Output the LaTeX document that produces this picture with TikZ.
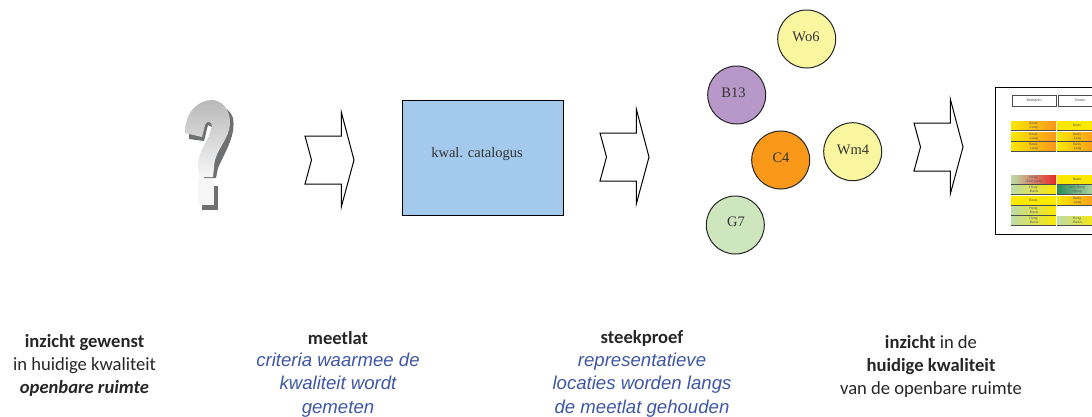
\documentclass[tikz,border=0pt]{standalone}
\usepackage{fontspec}
\setmainfont{Liberation Serif}
\newfontfamily\capfont{Carlito}
\newfontfamily\arifont{Liberation Sans}
\usetikzlibrary{calc}
\definecolor{qlight}{RGB}{185,185,185}
\definecolor{qdark}{RGB}{110,112,114}
\definecolor{qwhite}{RGB}{246,246,246}
\definecolor{catblue}{RGB}{163,201,236}
\definecolor{critblue}{RGB}{62,86,165}
\definecolor{cyel}{RGB}{250,246,160}
\definecolor{cpur}{RGB}{183,152,200}
\definecolor{corg}{RGB}{250,152,26}
\definecolor{cgrn}{RGB}{206,230,190}
\definecolor{ry}{RGB}{250,232,0}
\definecolor{ro}{RGB}{250,150,30}
\definecolor{rg}{RGB}{190,220,170}
\definecolor{rr}{RGB}{230,40,40}
\definecolor{rdg}{RGB}{40,140,90}
\tikzset{
 site/.style={circle,draw=black!85,line width=1pt,minimum size=58pt,inner sep=0pt},
 sitetext/.style={font=\fontsize{14.5}{16}\selectfont,text=black!80},
 flow/.style={draw=black,line width=1pt,fill=white,line join=miter},
 capt/.style={align=center,font=\capfont\fontsize{18.6}{23}\selectfont,text=black!85},
 crit/.style={align=center,font=\arifont\itshape\fontsize{18.6}{23.5}\selectfont,text=critblue},
 hdr/.style={draw=black!70,line width=1pt,fill=white,inner sep=0pt,font=\arifont\fontsize{3.6}{4}\selectfont,text=black!70},
 tiny/.style={align=center,inner sep=0pt,font=\arifont\fontsize{3.4}{3.9}\selectfont,text=black!65},
}
\newcommand{\flowarrow}[2]{\draw[flow] (#1,#2+24) -- ++(36.3,0) -- ++(0,24) -- ++(12.7,-48) -- ++(-12.7,-47) -- ++(0,23) -- ++(-36.3,0) -- ++(6.5,24) -- cycle;}
\newcommand{\cell}[6]{%
 \shade[left color=#4,right color=#5] (#1,-#2) rectangle ++(#3,-9);
 \draw[black!70,line width=1pt] (#1,-#2-9.4) -- ++(#3,0);
 \node[tiny] at ($(#1+#3/2,-#2-4.5)$) {#6};
}
\begin{document}
\begin{tikzpicture}[x=1pt,y=1pt]
\useasboundingbox (0,0) rectangle (1092,-416);
\clip (0,0) rectangle (1092,-416);
% question mark
\fill[qdark] (189,-139) -- (189,-125) .. controls (195,-103) and (226,-98) .. (233,-118)
 .. controls (236,-135) and (226,-150) .. (218,-168) -- (216,-178) -- (204,-178) -- (199,-165)
 .. controls (199,-150) and (210,-140) .. (212,-127) -- (208,-125) -- (204,-141) -- cycle;
\shade[top color=qlight,bottom color=qwhite] (185,-133) .. controls (185,-110) and (200,-100) .. (212,-100)
 .. controls (222,-100) and (230,-110) .. (230,-122)
 .. controls (230,-140) and (214,-150) .. (214,-168) -- (213,-177) -- (199,-177) -- (198,-165) .. controls (198,-150) and (210,-140) .. (212,-127)
 .. controls (212,-121) and (207,-120) .. (205,-125) -- (202,-137) -- cycle;
\fill[qwhite] (198,-179) rectangle (214,-205);
\fill[qdark] (214,-186) rectangle (218,-210);
\fill[qdark] (202,-205) rectangle (218,-210);
% arrows
\flowarrow{305}{-160}
\flowarrow{600}{-157}
\flowarrow{914}{-147}
% catalogue
\node[draw=black,line width=1pt,fill=catblue,minimum width=161pt,minimum height=115pt,inner sep=0pt,anchor=north west] (cat) at (402,-100) {};
\node[sitetext] (catt) at (477,-154) {kwal. catalogus};
% sites
\node[site,fill=cyel] (wo) at (806.7,-39) {};
\node[sitetext] at (806,-36.5) {Wo6};
\node[site,fill=cpur] (b) at (736.7,-95) {};
\node[sitetext] at (733.5,-93) {B13};
\node[site,fill=corg] (c) at (780.7,-160) {};
\node[sitetext] at (781,-157.5) {C4};
\node[site,fill=cyel] (wm) at (852.7,-151.7) {};
\node[sitetext] at (853,-149.5) {Wm4};
\node[site,fill=cgrn] (g) at (735.3,-225) {};
\node[sitetext] at (736,-222) {G7};
% report
\draw[black,line width=1pt,fill=white] (995,-87) rectangle (1100,-234.5);
\node[hdr,minimum width=44pt,minimum height=11pt] (h1) at (1034,-100.5) {Bedrijven};
\node[hdr,minimum width=44pt,minimum height=11pt] (h2) at (1080,-100.5) {Groen};
\cell{1011}{121}{45}{ry}{ro}{Basis\\-Laag}\cell{1057}{121}{40}{ry}{ry}{Basis}
\cell{1011}{132}{45}{ry}{ro}{Basis\\-Laag}\cell{1057}{132}{40}{ry}{ro}{Basis\\-Laag}
\cell{1011}{142}{45}{ry}{ro}{Basis\\-Laag}\cell{1057}{142}{40}{ry}{ro}{Basis\\-Laag}
\cell{1011}{175}{45}{rg}{rr}{Hoog\\-Zeer Laag}\cell{1057}{175}{40}{ry}{ry}{Basis}
\cell{1011}{185}{45}{rg}{ry}{Hoog\\-Basis}\cell{1057}{185}{40}{rdg}{rg}{Zeer Hoog\\-Hoog}
\cell{1011}{196}{45}{ry}{ry}{Basis}\cell{1057}{196}{40}{ry}{ro}{Basis\\-Laag}
\cell{1011}{206}{45}{rg}{ry}{Hoog\\-Basis}
\cell{1011}{216}{45}{rg}{ry}{Hoog\\-Basis}\cell{1057}{216}{40}{rg}{ry}{Hoog\\-Basis}
% captions
\node[capt] (t1) at (84.5,-365) {\textbf{inzicht gewenst}\\in huidige kwaliteit\\\textbf{\itshape openbare ruimte}};
\node[capt] (t2a) at (338,-338.5) {\textbf{meetlat}};
\node[crit] (t2) at (338,-385) {criteria waarmee de\\kwaliteit wordt\\gemeten};
\node[capt] (t3a) at (642,-338.5) {\textbf{steekproef}};
\node[crit] (t3) at (642,-385) {representatieve\\locaties worden langs\\de meetlat gehouden};
\node[capt] (t4) at (931,-366) {\textbf{inzicht} in de\\\textbf{huidige kwaliteit}\\van de openbare ruimte};
\end{tikzpicture}
\end{document}
